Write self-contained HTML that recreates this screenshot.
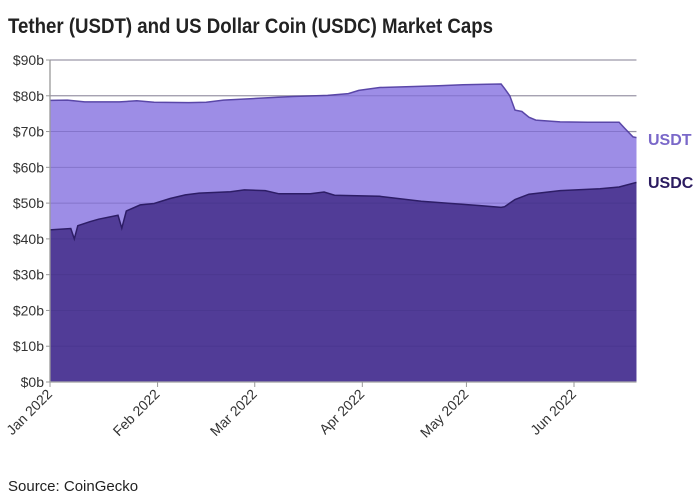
<!DOCTYPE html>
<html><head><meta charset="utf-8"><style>
html,body{margin:0;padding:0;background:#fff;}
svg{display:block;font-family:"Liberation Sans Narrow","Liberation Sans",sans-serif;}
</style></head><body>
<svg id="chart" width="696" height="497" viewBox="0 0 696 497">
<text x="8" y="33" font-size="21" font-weight="bold" fill="#222" textLength="485" lengthAdjust="spacingAndGlyphs">Tether (USDT) and US Dollar Coin (USDC) Market Caps</text>
<g id="grid"></g>
<g id="areas"></g>
<g id="gridover"></g>
<g id="yaxis"></g>
<g id="xaxis"></g>
<text x="648" y="145" font-size="16" font-weight="bold" fill="#7a68c9">USDT</text>
<text x="648" y="188" font-size="16" font-weight="bold" fill="#2b1b60">USDC</text>
<text x="8" y="491" font-size="15" fill="#222">Source: CoinGecko</text>
</svg>
<script>
const yTicks=[0,10,20,30,40,50,60,70,80,90];
const monthLabels=["Jan 2022","Feb 2022","Mar 2022","Apr 2022","May 2022","Jun 2022"];
const monthDays=[0,31,59,90,120,151];
const usdtDays=[0,5,10,20,25,30,40,45,50,60,70,80,86,89,95,105,112,119,126,130,131,132.5,134,136,138,140,147,155,164,166,168,169];
const usdtVals=[78.7,78.8,78.3,78.3,78.6,78.2,78.1,78.2,78.8,79.3,79.8,80.1,80.6,81.5,82.3,82.6,82.8,83.1,83.2,83.3,82,80,76,75.6,74,73.2,72.7,72.6,72.6,70.5,68.5,68.3];
const usdcDays=[0,6,7,8,11.5,14,19.6,20.7,22,26,30,34.6,39,43,52,56,62,66,75,79,82,95,107,124,130,131,134,138,147,158.5,164,169];
const usdcVals=[42.5,42.9,40,43.7,44.8,45.5,46.6,43,47.8,49.5,49.9,51.3,52.3,52.8,53.2,53.7,53.5,52.6,52.6,53.1,52.2,51.9,50.5,49.3,48.8,49,51,52.5,53.5,54.0,54.5,55.8];
const NS="http://www.w3.org/2000/svg";
const X0=50,Y0=382,PXD=(574-50)/151,PXB=(382-60)/90;
const xs=d=>X0+d*PXD, ys=v=>Y0-v*PXB;
const XEND=xs(169);
function mk(t,a,p){const e=document.createElementNS(NS,t);for(const k in a)e.setAttribute(k,a[k]);p.appendChild(e);return e;}
const grid=document.getElementById('grid'),gov=document.getElementById('gridover'),ya=document.getElementById('yaxis'),xa=document.getElementById('xaxis'),ar=document.getElementById('areas');
yTicks.forEach(v=>{
 const l=mk('line',{x1:X0,x2:XEND,y1:ys(v),y2:ys(v),stroke:'#b5b5b5','stroke-width':1.3},grid);
 
 
 const l2=mk('line',{x1:X0,x2:XEND,y1:ys(v),y2:ys(v),stroke:'#3a2a7a','stroke-opacity':0.25,'stroke-width':1},gov);
 
 
 const tk=mk('line',{x1:X0-4,x2:X0,y1:ys(v),y2:ys(v),stroke:'#999'},ya);
 
 
 const t=mk('text',{x:X0-6,y:ys(v)+5,'font-size':14,'text-anchor':'end',fill:'#333'},ya);
 t.textContent='$'+v+'b';
 
 
});
function area(days,vals,fill,stroke,name){
 let d='M'+xs(days[0])+','+Y0;
 days.forEach((dd,i)=>{d+=' L'+xs(dd).toFixed(1)+','+ys(vals[i]).toFixed(1);});
 d+=' L'+xs(days[days.length-1])+','+Y0+' Z';
 const p=mk('path',{d:d,fill:fill},ar);
 
 
 let ld='';days.forEach((dd,i)=>{ld+=(i?' L':'M')+xs(dd).toFixed(1)+','+ys(vals[i]).toFixed(1);});
 const l=mk('path',{d:ld,fill:'none',stroke:stroke,'stroke-width':1.5},ar);
 
 
}
area(usdtDays,usdtVals,'#9d8de6','#5a47a8','usdt');
area(usdcDays,usdcVals,'#513c97','#2d1d66','usdc');
const ax=mk('line',{x1:X0,x2:X0,y1:ys(90),y2:Y0,stroke:'#999','stroke-width':1.3},ya);


const bx=mk('line',{x1:X0,x2:XEND,y1:Y0,y2:Y0,stroke:'#aaa','stroke-width':1.3},xa);


monthDays.forEach((d,i)=>{
 const x=xs(d);
 const tk=mk('line',{x1:x,x2:x,y1:Y0,y2:Y0+5,stroke:'#999'},xa);
 
 
 const t=mk('text',{x:x+3,y:Y0+13,'font-size':14,'text-anchor':'end',fill:'#333',transform:'rotate(-45 '+(x+3)+' '+(Y0+13)+')'},xa);
 t.textContent=monthLabels[i];
 
 
});
</script>
</body></html>
